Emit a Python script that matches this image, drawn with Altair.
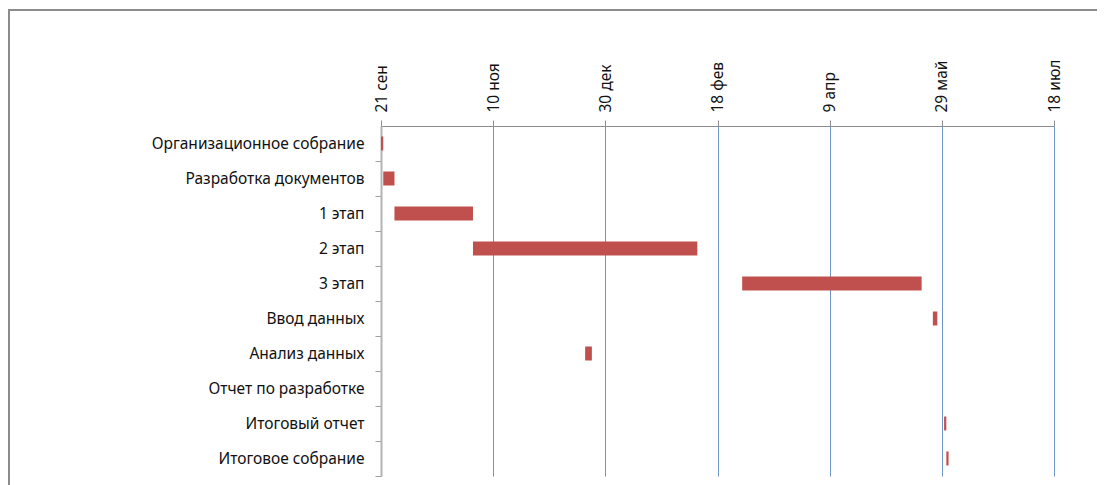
import altair as alt
import pandas as pd

tasks = ["Организационное собрание", "Разработка документов", "1 этап", "2 этап", "3 этап",
         "Ввод данных", "Анализ данных", "Отчет по разработке", "Итоговый отчет", "Итоговое собрание"]
starts = ["2012-09-21", "2012-09-22", "2012-09-27", "2012-11-01", "2013-03-01",
          "2013-05-25", "2012-12-21", "2013-01-15", "2013-05-30", "2013-05-31"]
ends = ["2012-09-22", "2012-09-27", "2012-11-01", "2013-02-09", "2013-05-20",
        "2013-05-27", "2012-12-24", "2013-01-15", "2013-05-31", "2013-06-01"]
tick_dates = [(2012, 9, 21), (2012, 11, 10), (2012, 12, 30), (2013, 2, 18),
              (2013, 4, 9), (2013, 5, 29), (2013, 7, 18)]
month_names = ["янв", "фев", "мар", "апр", "май", "июн", "июл", "авг", "сен", "окт", "ноя", "дек"]

df = pd.DataFrame({"task": tasks, "start": starts, "end": ends})

FONT = "Noto Sans"
FS = 15.5
tick_values = [alt.DateTime(year=y, month=m, date=d, utc=True) for (y, m, d) in tick_dates]
months_js = "[" + ",".join("'" + m + "'" for m in month_names) + "]"

base = alt.Chart(df)

bars = base.mark_bar(height=14, color="#C0504D").encode(
    x=alt.X("start:T",
            scale=alt.Scale(type="utc", domain=[tick_values[0], tick_values[-1]]),
            axis=alt.Axis(orient="top", values=tick_values, title=None,
                          labelExpr="utcdate(datum.value) + ' ' + " + months_js + "[utcmonth(datum.value)]",
                          labelAngle=-90, labelAlign="left", labelBaseline="middle",
                          labelPadding=8, labelFont=FONT, labelFontSize=FS, labelColor="#111111",
                          tickSize=6, tickColor="#8c8c8c", domainColor="#8c8c8c",
                          grid=True, gridColor="#6f93c8", gridWidth=1, labelFlush=False)),
    x2="end:T",
    y=alt.Y("task:N", sort=tasks,
            scale=alt.Scale(paddingInner=0, paddingOuter=0),
            axis=alt.Axis(title=None, bandPosition=1, labelPadding=11,
                          labelFont=FONT, labelFontSize=FS, labelColor="#111111",
                          tickSize=6, tickColor="#a0a0a0", domainColor="#b4b4b4", domainWidth=2,
                          grid=False, labelLimit=400)),
)

frame = base.mark_rect(fill=None, stroke="#8c8c8c", strokeWidth=1.5).encode(
    x=alt.value(-372), x2=alt.value(760), y=alt.value(-116), y2=alt.value(380)
)

chart = alt.layer(frame, bars).properties(
    width=673, height=350,
    autosize=alt.AutoSizeParams(type="none"),
    padding={"left": 373, "top": 118, "right": 43, "bottom": 10},
).configure_view(stroke=None)

chart.save("out.html", embed_options={"renderer": "svg", "actions": False})
